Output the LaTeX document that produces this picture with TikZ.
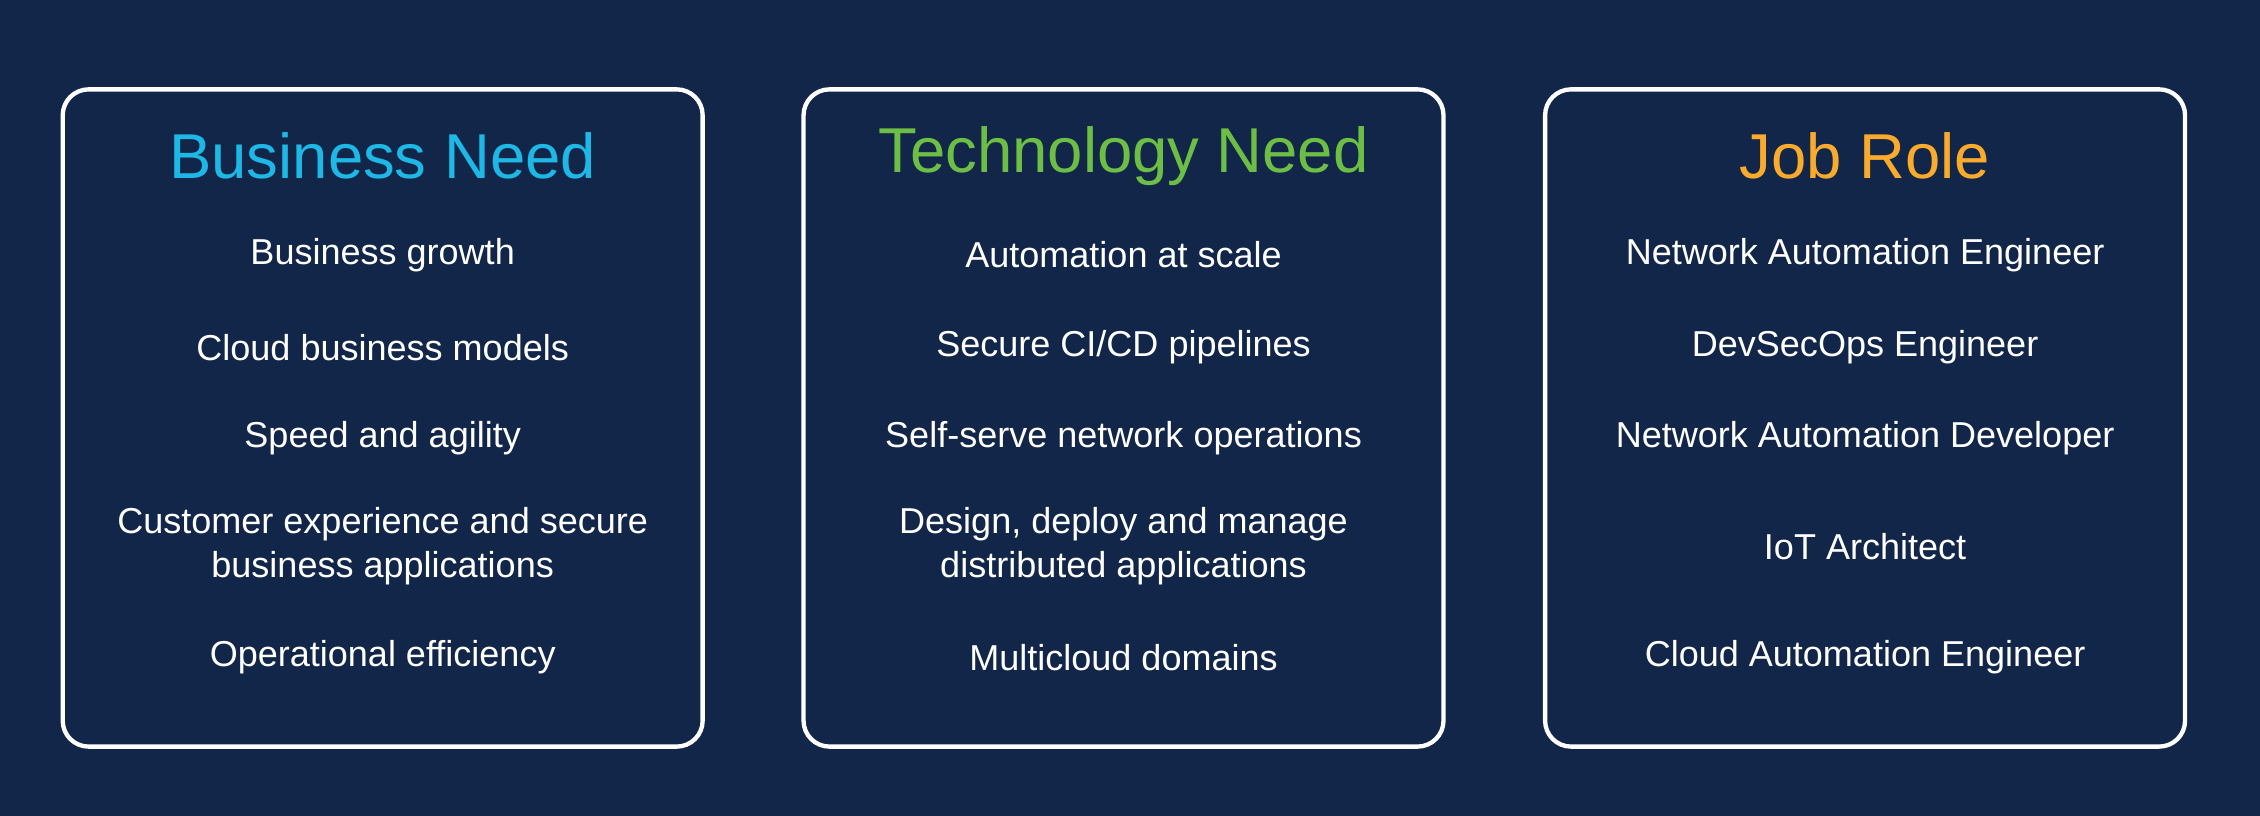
\documentclass[tikz,border=0pt]{standalone}
\usepackage{fontspec}
\setmainfont{Liberation Sans}
\definecolor{bg}{HTML}{12264A}
\definecolor{cblue}{HTML}{1DB8E6}
\definecolor{cgreen}{HTML}{6DBE45}
\definecolor{corange}{HTML}{FBAB2C}
\begin{document}
\begin{tikzpicture}[x=0.5pt,y=-0.5pt,
  panel/.style={draw=white,line width=1.5pt,rounded corners=9pt,fill=bg},
  ttl/.style={font=\fontsize{22}{26}\selectfont,anchor=center},
  itm/.style={text=white,font=\fontsize{12.5}{15}\selectfont,align=center,anchor=center}]
\fill[bg] (0,0) rectangle (1568,566);
\useasboundingbox (0,0) rectangle (1568,566);
\foreach \cx/\n in {265.5/a,779.5/b,1294/c}{
  \draw[panel] (\cx-222,62) rectangle (\cx+222,518);
}
\node[ttl,text=cblue] (t1) at (265.5,108) {Business Need};
\node[ttl,text=cgreen] (t2) at (779.5,108) {Technology Need};
\node[ttl,text=corange] (t3) at (1294,108) {Job Role};
\node[itm] (a1) at (265.5,177) {Business growth};
\node[itm] (a2) at (265.5,241) {Cloud business models};
\node[itm] (a3) at (265.5,304) {Speed and agility};
\node[itm] (a4) at (265.5,379) {Customer experience and secure\\business applications};
\node[itm] (a5) at (265.5,456) {Operational efficiency};
\node[itm] (b1) at (779.5,177) {Automation at scale};
\node[itm] (b2) at (779.5,241) {Secure CI/CD pipelines};
\node[itm] (b3) at (779.5,304) {Self-serve network operations};
\node[itm] (b4) at (779.5,379) {Design, deploy and manage\\distributed applications};
\node[itm] (b5) at (779.5,456) {Multicloud domains};
\node[itm] (c1) at (1294,177) {Network Automation Engineer};
\node[itm] (c2) at (1294,241) {DevSecOps Engineer};
\node[itm] (c3) at (1294,304) {Network Automation Developer};
\node[itm] (c4) at (1294,379) {IoT Architect};
\node[itm] (c5) at (1294,456) {Cloud Automation Engineer};
\end{tikzpicture}
\end{document}
